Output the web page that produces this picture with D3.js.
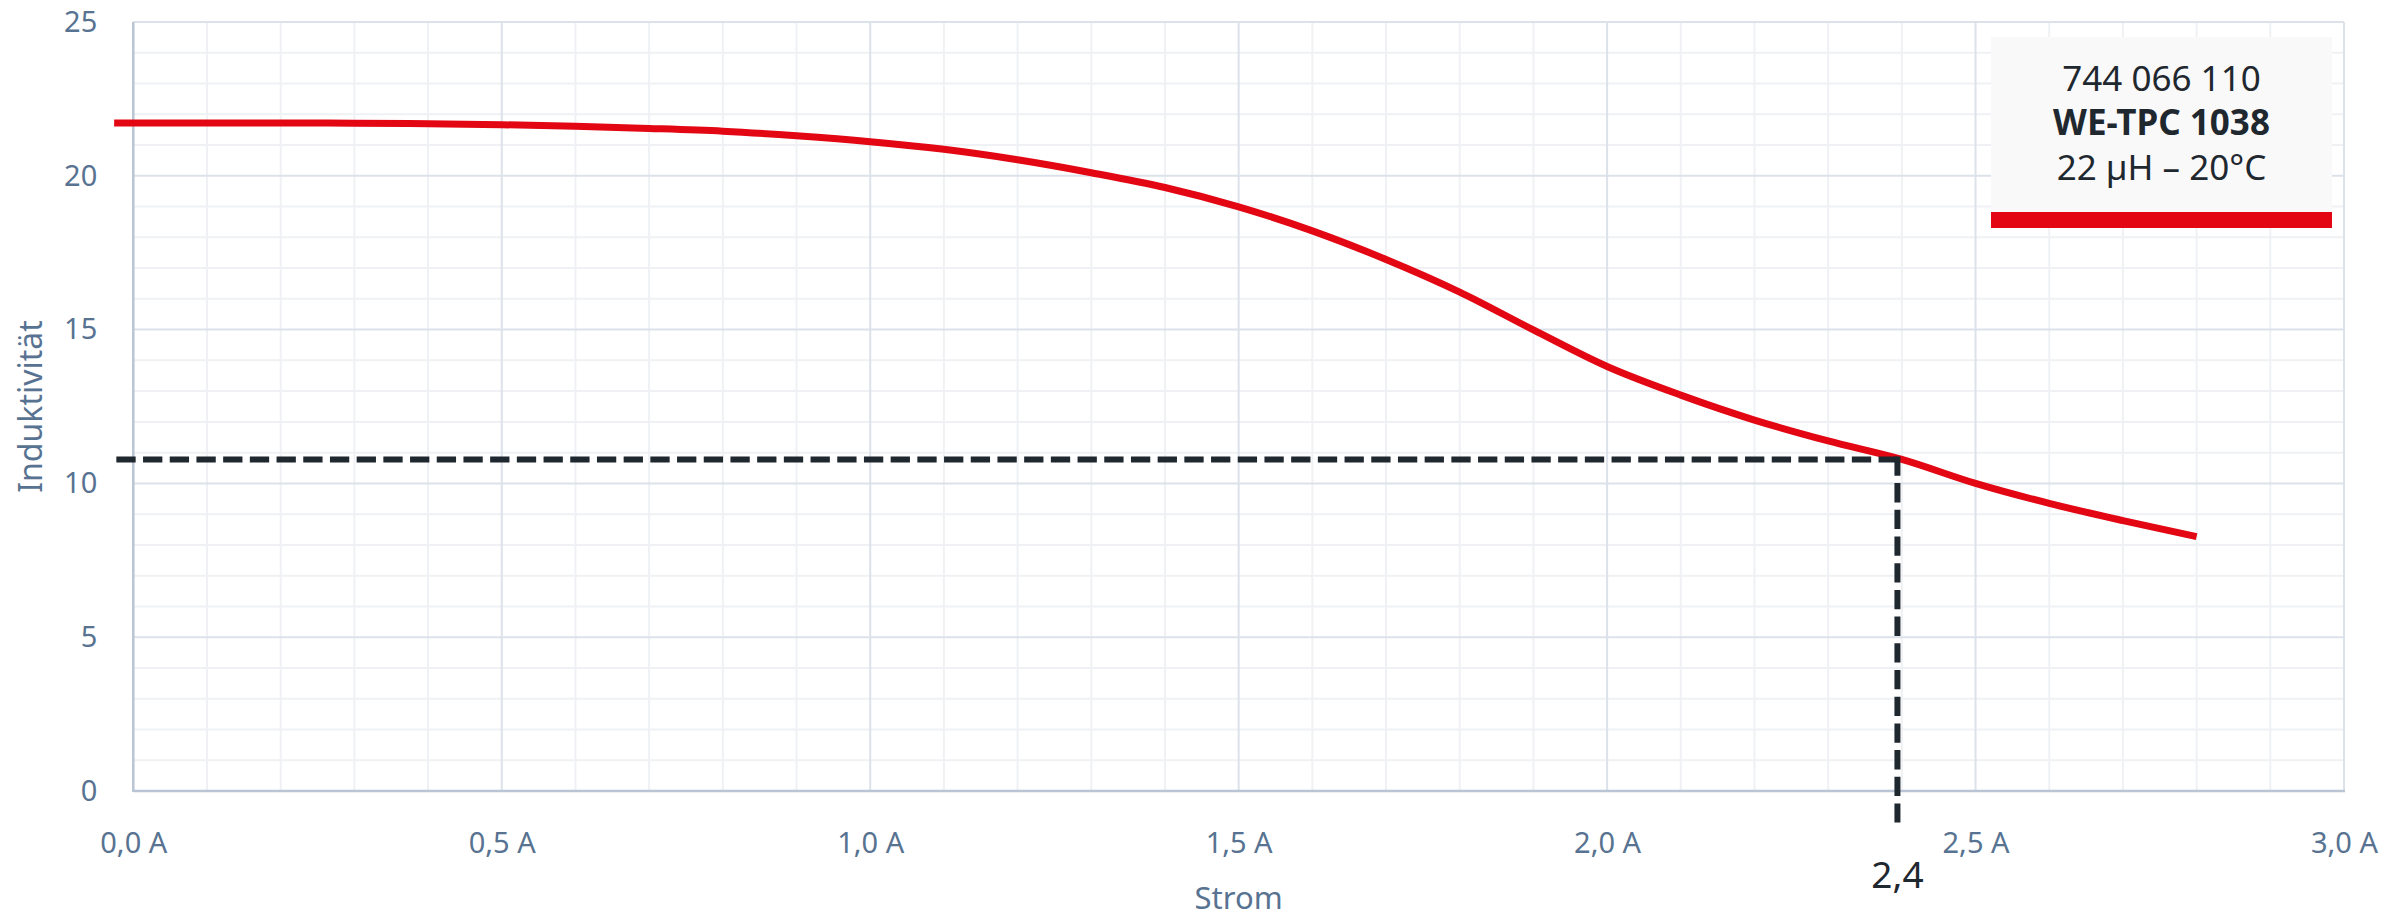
<!DOCTYPE html>
<html>
<head>
<meta charset="utf-8">
<script src="https://cdn.jsdelivr.net/npm/d3@7"></script>
<style>
  html, body { margin: 0; padding: 0; background: #ffffff; }
  svg { display: block; font-family: "Noto Sans", sans-serif; }
</style>
</head>
<body>
<svg id="chart" width="2407" height="919"></svg>
<script>
// ---- Data ----
const currentA = [-0.026, 0, 0.1, 0.2, 0.3, 0.4, 0.5, 0.6, 0.7, 0.8, 0.9, 1.0, 1.1, 1.2, 1.3, 1.4, 1.5, 1.6, 1.7, 1.8, 1.9, 2.0, 2.1, 2.2, 2.3, 2.4, 2.5, 2.6, 2.7, 2.8];
const inductance = [21.72, 21.72, 21.72, 21.72, 21.71, 21.69, 21.66, 21.61, 21.54, 21.45, 21.30, 21.11, 20.86, 20.52, 20.10, 19.62, 18.99, 18.21, 17.28, 16.22, 14.99, 13.80, 12.87, 12.06, 11.38, 10.78, 10.00, 9.35, 8.79, 8.27];
const markerCurrent = 2.394;
const markerInductance = 10.78;
const markerStartCurrent = -0.023;
const markerEndInductance = -1.02;
const xTickValues = [0, 0.5, 1.0, 1.5, 2.0, 2.5, 3.0];
const yTickValues = [0, 5, 10, 15, 20, 25];
const xMinorValues = d3.range(1, 30).map(i => i / 10);
const yMinorValues = d3.range(1, 25);
const legendLines = ["744 066 110", "WE-TPC 1038", "22 µH – 20°C"];
const xTitle = "Strom";
const yTitle = "Induktivität";
const markerLabel = "2,4";

// ---- Layout ----
const pLeft = 133.3, pRight = 2344, pTop = 22, pBottom = 791;
const tickColor = "#587391";
const darkColor = "#1f272f";
const red = "#e30613";

const svg = d3.select("#chart");
const x = d3.scaleLinear().domain([0, 3]).range([pLeft, pRight]);
const y = d3.scaleLinear().domain([0, 25]).range([pBottom, pTop]);

// minor grid
const grid = svg.append("g");
grid.selectAll("line.vminor").data(xMinorValues.filter(v => Math.abs(v * 2 - Math.round(v * 2)) > 1e-6))
  .enter().append("line")
  .attr("x1", d => x(d)).attr("x2", d => x(d)).attr("y1", pTop).attr("y2", pBottom)
  .attr("stroke", "#eff1f4").attr("stroke-width", 2);
grid.selectAll("line.hminor").data(yMinorValues.filter(v => v % 5 !== 0))
  .enter().append("line")
  .attr("x1", pLeft).attr("x2", pRight).attr("y1", d => y(d)).attr("y2", d => y(d))
  .attr("stroke", "#eff1f4").attr("stroke-width", 2);
// major grid
grid.selectAll("line.vmajor").data(xTickValues.filter(v => v > 0))
  .enter().append("line")
  .attr("x1", d => x(d)).attr("x2", d => x(d)).attr("y1", pTop).attr("y2", pBottom)
  .attr("stroke", "#dce2ea").attr("stroke-width", 2);
grid.selectAll("line.hmajor").data(yTickValues.filter(v => v > 0))
  .enter().append("line")
  .attr("x1", pLeft).attr("x2", pRight).attr("y1", d => y(d)).attr("y2", d => y(d))
  .attr("stroke", "#dce2ea").attr("stroke-width", 2);

// axes lines
svg.append("line").attr("x1", pLeft).attr("x2", pLeft).attr("y1", pTop).attr("y2", pBottom + 1)
  .attr("stroke", "#b9c5d4").attr("stroke-width", 2.5);
svg.append("line").attr("x1", pLeft).attr("x2", pRight + 1).attr("y1", pBottom).attr("y2", pBottom)
  .attr("stroke", "#b9c5d4").attr("stroke-width", 2.5);

// axes labels
const fmtX = d => d3.format(".1f")(d).replace(".", ",") + " A";
const xAxis = d3.axisBottom(x).tickValues(xTickValues).tickFormat(fmtX).tickSize(0).tickPadding(41);
const gx = svg.append("g").attr("transform", `translate(0,${pBottom})`).call(xAxis);
gx.select(".domain").remove();
gx.selectAll("text").attr("fill", tickColor).style("font-size", "29px").style("font-family", "Noto Sans");

const yAxis = d3.axisLeft(y).tickValues(yTickValues).tickFormat(d3.format("d")).tickSize(0).tickPadding(36);
const gy = svg.append("g").attr("transform", `translate(${pLeft},0)`).call(yAxis);
gy.select(".domain").remove();
gy.selectAll("text").attr("fill", tickColor).style("font-size", "29px").style("font-family", "Noto Sans");

// titles
svg.append("text").attr("x", (pLeft + pRight) / 2).attr("y", 909)
  .attr("text-anchor", "middle").attr("fill", tickColor).style("font-size", "31px").text(xTitle);
svg.append("text").attr("transform", `translate(42,${(pTop + pBottom) / 2}) rotate(-90)`)
  .attr("text-anchor", "middle").attr("fill", tickColor).style("font-size", "32px").text(yTitle);

// curve
const line = d3.line().x(d => x(d[0])).y(d => y(d[1])).curve(d3.curveMonotoneX);
svg.append("path").datum(currentA.map((c, i) => [c, inductance[i]]))
  .attr("d", line).attr("fill", "none").attr("stroke", red).attr("stroke-width", 7);

// marker dashed lines
svg.append("line")
  .attr("x1", x(markerStartCurrent)).attr("x2", x(markerCurrent))
  .attr("y1", y(markerInductance)).attr("y2", y(markerInductance))
  .attr("stroke", darkColor).attr("stroke-width", 6).attr("stroke-dasharray", "19.3 7.4");
svg.append("line")
  .attr("x1", x(markerCurrent)).attr("x2", x(markerCurrent))
  .attr("y1", y(markerInductance) - 3).attr("y2", y(markerEndInductance))
  .attr("stroke", darkColor).attr("stroke-width", 6).attr("stroke-dasharray", "19.3 7.4");
svg.append("text").attr("x", x(markerCurrent)).attr("y", 888)
  .attr("text-anchor", "middle").attr("fill", darkColor).style("font-size", "37px").text(markerLabel);

// legend
const lg = svg.append("g");
lg.append("rect").attr("x", 1991).attr("y", 37).attr("width", 341).attr("height", 175).attr("fill", "#f9f9f9");
lg.append("rect").attr("x", 1991).attr("y", 212).attr("width", 341).attr("height", 16).attr("fill", red);
const baselines = [91, 135, 180];
lg.selectAll("text").data(legendLines).enter().append("text")
  .attr("x", 2161.5).attr("y", (d, i) => baselines[i])
  .attr("text-anchor", "middle").attr("fill", darkColor)
  .style("font-size", "35px")
  .style("font-weight", (d, i) => i === 1 ? "700" : "400")
  .text(d => d);
</script>
</body>
</html>
